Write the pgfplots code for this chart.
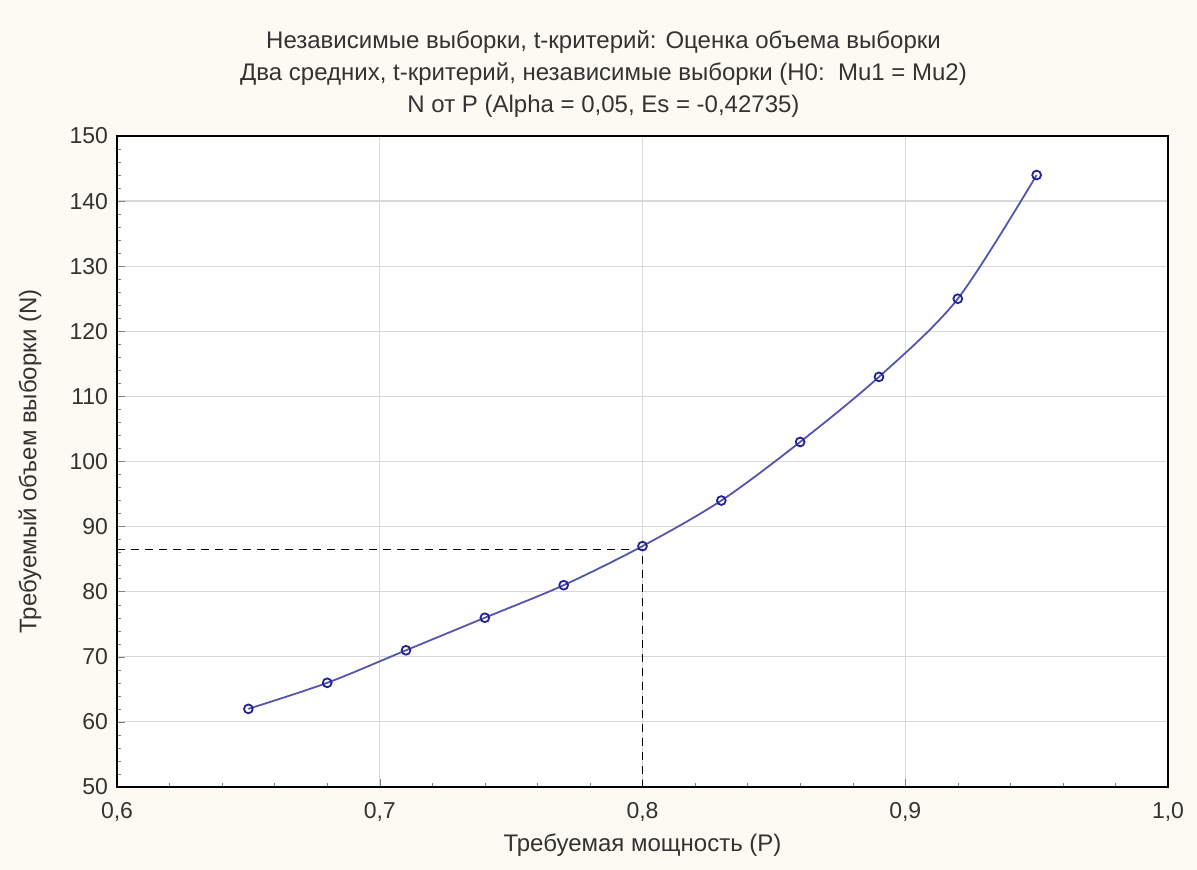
\documentclass[border=0pt]{standalone}
\usepackage{pgfplots}
\pgfplotsset{compat=1.18}
\usepackage{fontspec}
\setmainfont{Liberation Sans}

\definecolor{bgcream}{HTML}{FCFAF2}
\definecolor{gridgray}{HTML}{D8D8D8}
\definecolor{curveblue}{HTML}{5555B0}
\definecolor{markblue}{HTML}{22229A}

\begin{document}
\begin{tikzpicture}
% page background (whole picture is 598.5pt x 435pt)
\fill[bgcream] (-58.5pt,-41.5pt) rectangle (540pt,393.5pt);
\begin{axis}[
  at={(0,0)}, anchor=south west,
  scale only axis, width=525.5pt, height=325.5pt,
  xmin=0.6, xmax=1.0, ymin=50, ymax=150,
  xtick={0.6,0.7,...,1.0}, ytick={50,60,...,150},
  minor x tick num=4, minor y tick num=4,
  tick label style={font=\fontsize{11.5}{12}\selectfont, text=black!80},
  xticklabel style={yshift=-4pt, /pgf/number format/.cd, fixed, fixed zerofill, precision=1, use comma},
  yticklabel style={xshift=-1pt},
  /pgf/number format/assume math mode=true,
  tick align=inside, tick pos=left,
  major tick length=4pt, minor tick length=2pt,
  grid=major, grid style={gridgray, line width=0.6pt},
  axis line style={black, line width=0.7pt},
  axis background/.style={fill=white},
  xlabel={Требуемая мощность (P)},
  ylabel={Требуемый объем выборки (N)},
  label style={font=\fontsize{12}{14}\selectfont, text=black!80},
  xlabel style={at={(rel axis cs:0.5,0)}, anchor=center, yshift=-29pt},
  ylabel style={at={(rel axis cs:0,0.5)}, anchor=center, yshift=43.5pt},
  clip=false,
]
% reference lines for P = 0.8
\addplot[black, line width=0.7pt, dash pattern=on 4pt off 3pt] coordinates {(0.6,86.5) (0.8,86.5) (0.8,50)};

\addplot[curveblue, line width=0.9pt, smooth, mark=o,
  mark options={markblue, fill=white, line width=0.9pt, scale=1.1}]
  coordinates {
  (0.65,62) (0.68,66) (0.71,71) (0.74,76) (0.77,81) (0.80,87)
  (0.83,94) (0.86,103) (0.89,113) (0.92,125) (0.95,144)
};

\node[align=center, font=\fontsize{12}{16}\selectfont, text=black!80]
  at (rel axis cs:0.5,1) [yshift=31pt, xshift=-19.5pt]
  {Независимые выборки, t-критерий: Оценка объема выборки\\
   Два средних, t-критерий, независимые выборки (H0:\ \ Mu1 = Mu2)\\
   N от P (Alpha = 0,05, Es = -0,42735)};
\end{axis}
\end{tikzpicture}
\end{document}
